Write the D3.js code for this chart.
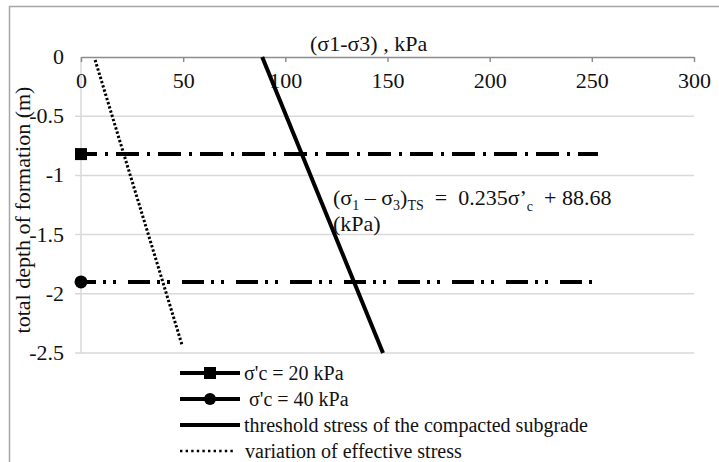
<!DOCTYPE html>
<html>
<head>
<meta charset="utf-8">
<script src="https://cdn.jsdelivr.net/npm/d3@7"></script>
<style>
  body { margin: 0; background: #fff; }
  svg { display: block; }
  text { font-family: 'Liberation Serif', 'Times New Roman', serif; fill: #111; }
</style>
</head>
<body>
<script>
// axis ticks
const xTicks = [0, 50, 100, 150, 200, 250, 300];
const yTicks = [0, -0.5, -1, -1.5, -2, -2.5];

// series (x = deviator stress kPa, depth = m)
const confining20X = [0, 253];
const confining20Depth = [-0.82, -0.82];
const confining40X = [0, 253];
const confining40Depth = [-1.9, -1.9];
const thresholdX = [88.68, 147.8];
const thresholdDepth = [0, -2.5];
const effectiveX = [6.9, 49.4];
const effectiveDepth = [-0.025, -2.43];

const legendLabels = ["\u03c3'c = 20 kPa", " \u03c3'c = 40 kPa", 'threshold stress of the compacted subgrade', 'variation of effective stress'];

const W = 719, H = 462;
const svg = d3.select('body').append('svg').attr('width', W).attr('height', H);

const x = d3.scaleLinear().domain([0, 300]).range([81, 694]);
const y = d3.scaleLinear().domain([0, -2.5]).range([57, 353]);

// outer frame (only top and left edges visible)
svg.append('path')
    .attr('d', 'M9.5,' + H + 'V6.5H' + W)
    .attr('fill', 'none').attr('stroke', '#a6a6a6').attr('stroke-width', 1.5);

// horizontal gridlines
svg.append('g').selectAll('line').data(yTicks.filter((d) => d !== 0)).join('line')
    .attr('x1', 75).attr('x2', x(300))
    .attr('y1', (d) => y(d)).attr('y2', (d) => y(d))
    .attr('stroke', '#d9d9d9').attr('stroke-width', 1.5);

// vertical axis line
svg.append('line')
    .attr('x1', x(0)).attr('x2', x(0)).attr('y1', y(0)).attr('y2', y(-2.5))
    .attr('stroke', '#d9d9d9').attr('stroke-width', 1.5);

// top axis
const xAxis = svg.append('g').attr('transform', 'translate(0,' + y(0) + ')')
    .call(d3.axisBottom(x).tickValues(xTicks).tickSize(5).tickSizeOuter(0).tickPadding(10).tickFormat(d3.format('d')));
xAxis.attr('font-family', null);
xAxis.select('.domain').attr('stroke', '#8c8c8c').attr('stroke-width', 1.5);
xAxis.selectAll('.tick line').attr('stroke', '#8c8c8c').attr('stroke-width', 1.5);
xAxis.selectAll('.tick text').attr('font-size', 22).attr('fill', '#111');

// y tick labels
svg.append('g').selectAll('text').data(yTicks).join('text')
    .attr('x', 64).attr('y', (d) => y(d) + 7)
    .attr('text-anchor', 'end').attr('font-size', 22)
    .text((d) => String(d).replace('\u2212', '-'));

// axis titles
svg.append('text').attr('x', 310).attr('y', 51).attr('font-size', 22).text('(\u03c31-\u03c33) , kPa');
svg.append('text').attr('transform', 'translate(30,210) rotate(-90)')
    .attr('text-anchor', 'middle').attr('font-size', 22).text('total depth of formation (m)');

const line = d3.line().x((d) => x(d[0])).y((d) => y(d[1]));
const zip = (a, b) => a.map((v, i) => [v, b[i]]);

// confining stress lines
svg.append('path').datum(zip(confining20X, confining20Depth)).attr('d', line)
    .attr('fill', 'none').attr('stroke', '#000').attr('stroke-width', 4)
    .attr('stroke-dasharray', '23,8,3,8').attr('stroke-dashoffset', 7);
svg.append('path').datum(zip(confining40X, confining40Depth)).attr('d', line)
    .attr('fill', 'none').attr('stroke', '#000').attr('stroke-width', 4)
    .attr('stroke-dasharray', '22,7,3,7,3,12').attr('stroke-dashoffset', 7);

// effective stress (dotted)
svg.append('path').datum(zip(effectiveX, effectiveDepth)).attr('d', line)
    .attr('fill', 'none').attr('stroke', '#000').attr('stroke-width', 3)
    .attr('stroke-dasharray', '2.4,2');

// threshold stress
svg.append('path').datum(zip(thresholdX, thresholdDepth)).attr('d', line)
    .attr('fill', 'none').attr('stroke', '#000').attr('stroke-width', 4);

// markers at first points
svg.append('rect')
    .attr('x', x(confining20X[0]) - 6).attr('y', y(confining20Depth[0]) - 6)
    .attr('width', 12).attr('height', 12).attr('fill', '#000');
svg.append('circle')
    .attr('cx', x(confining40X[0])).attr('cy', y(confining40Depth[0])).attr('r', 6.5).attr('fill', '#000');

// equation annotation
const eq = svg.append('text').attr('x', 333).attr('y', 205).attr('font-size', 22)
    .attr('xml:space', 'preserve').style('white-space', 'pre');
eq.append('tspan').text('(\u03c3');
eq.append('tspan').attr('font-size', 14).attr('dy', 5).text('1');
eq.append('tspan').attr('dy', -5).text(' \u2013 \u03c3');
eq.append('tspan').attr('font-size', 14).attr('dy', 5).text('3');
eq.append('tspan').attr('dy', -5).text(')');
eq.append('tspan').attr('font-size', 14).attr('dy', 5).text('TS');
eq.append('tspan').attr('dy', -5).text('  =  0.235\u03c3\u2019');
eq.append('tspan').attr('font-size', 14).attr('dy', 6).text('c');
eq.append('tspan').attr('dy', -6).text('  + 88.68');
svg.append('text').attr('x', 333).attr('y', 231).attr('font-size', 22).text('(kPa)');

// legend
const legend = svg.append('g');
const rows = legend.selectAll('g').data(legendLabels).join('g')
    .attr('transform', (d, i) => 'translate(180,' + (373 + i * 26) + ')');
rows.append('line').attr('x1', 0).attr('x2', (d, i) => (i === 3 ? 55 : 60)).attr('y1', 0).attr('y2', 0)
    .attr('stroke', '#000')
    .attr('stroke-width', (d, i) => (i === 3 ? 2.5 : 4))
    .attr('stroke-dasharray', (d, i) => (i === 3 ? '2.4,3.2' : null));
rows.filter((d, i) => i === 0).append('rect').attr('x', 24).attr('y', -6).attr('width', 12).attr('height', 12).attr('fill', '#000');
rows.filter((d, i) => i === 1).append('circle').attr('cx', 30).attr('cy', 0).attr('r', 6).attr('fill', '#000');
rows.append('text').attr('x', (d, i) => (i === 3 ? 65 : 64)).attr('y', 7).attr('font-size', 20)
    .attr('xml:space', 'preserve').style('white-space', 'pre').text((d) => d);
</script>
</body>
</html>
